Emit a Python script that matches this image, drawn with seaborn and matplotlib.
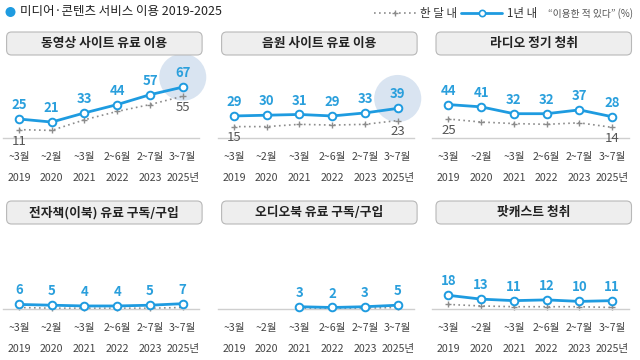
import numpy as np
import matplotlib.pyplot as plt
from matplotlib.patches import FancyBboxPatch, Circle
from matplotlib.lines import Line2D
import seaborn as sns

sns.set_theme(style="white")
plt.rcParams["font.family"] = ["Noto Sans CJK KR", "DejaVu Sans"]

BLUE = "#1e9be0"
BLUE_TXT = "#2a9fdc"
GREY = "#8c8c8c"
GREY_TXT = "#555555"
HALO = "#d9e4f1"
AXIS = "#cfcfcf"

nan = np.nan

# data
periods = ["~3월\n2019", "~2월\n2020", "~3월\n2021", "2~6월\n2022", "2~7월\n2023", "3~7월\n2025년"]
titles = ["동영상 사이트 유료 이용", "음원 사이트 유료 이용", "라디오 정기 청취",
          "전자책(이북) 유료 구독/구입", "오디오북 유료 구독/구입", "팟캐스트 청취"]

year_video = [25, 21, 33, 44, 57, 67]
month_video = [11, 10, 24, 35, 44, 55]
year_music = [29, 30, 31, 29, 33, 39]
month_music = [15, 15, 18, 17, 18, 23]
year_radio = [44, 41, 32, 32, 37, 28]
month_radio = [25, 21, 19, 18, 20, 14]
year_ebook = [6, 5, 4, 4, 5, 7]
month_ebook = [2, 1, 1, 1, 1, 2]
year_audio = [nan, nan, 3, 2, 3, 5]
month_audio = [nan, nan, 1, 1, 1, 2]
year_podcast = [18, 13, 11, 12, 10, 11]
month_podcast = [6, 4, 3, 3, 3, 2]

yearly = [year_video, year_music, year_radio, year_ebook, year_audio, year_podcast]
monthly = [month_video, month_music, month_radio, month_ebook, month_audio, month_podcast]
show_month_labels = [True, True, True, False, False, False]
halo = [True, True, False, False, False, False]

# layout (pixels on a 640x360 canvas)
W, H = 640, 360
panel_left = [2.6, 217.6, 432.0]
panel_width = 196.5
row_base = [138, 309]
plot_h = 79
box_top = [32, 201]
box_h = 23

fig = plt.figure(figsize=(6.4, 3.6), dpi=100)
fig.patch.set_facecolor("white")

# header
fig.patches.append(Circle((0.105, 3.6 - 0.12), 0.05, transform=fig.dpi_scale_trans,
                          facecolor=BLUE, edgecolor="none"))
fig.text(20 / W, 1 - 12 / H, "미디어·콘텐츠 서비스 이용 2019-2025", fontsize=9,
         color="#222222", va="center", ha="left")

handles = [Line2D([], [], color=GREY, lw=1.2, ls=(0, (1, 2)), marker="+", ms=5),
           Line2D([], [], color=BLUE, lw=2, marker="o", ms=4.5, mfc="white", mec=BLUE, mew=1.2)]
fig.legend(handles, ["한 달 내", "1년 내"], loc="center right", bbox_to_anchor=(543 / W, 1 - 14 / H),
           ncol=2, frameon=False, fontsize=8.3, handlelength=3.6, handletextpad=0.4,
           columnspacing=0.3, borderpad=0, labelcolor="#333333")
fig.text(548 / W, 1 - 14 / H, "\u201c이용한 적 있다\u201d (%)", fontsize=7, color=GREY_TXT,
         va="center", ha="left")

x = np.arange(len(periods))

for i in range(6):
    r, c = divmod(i, 3)
    left = panel_left[c]
    base = row_base[r]
    ax = fig.add_axes([left / W, (H - base) / H, panel_width / W, plot_h / H])
    ax.patch.set_alpha(0)

    # title box
    bx = left + 4
    by = H - box_top[r] - box_h
    fig.patches.append(FancyBboxPatch((bx / 100, by / 100), (panel_width - 1) / 100, box_h / 100,
                                      boxstyle="round,pad=0,rounding_size=0.05",
                                      transform=fig.dpi_scale_trans,
                                      facecolor="#eeeeee", edgecolor="#b8b8b8", lw=0.8))
    fig.text((bx + (panel_width - 1) / 2) / W, (by + box_h / 2) / H, titles[i],
             fontsize=9.2, fontweight="bold", color="#222222", ha="center", va="center")

    yv = np.array(yearly[i], dtype=float)
    mv = np.array(monthly[i], dtype=float)

    if halo[i]:
        ax.scatter([x[-1]], [yv[-1] + 13], s=1150, color=HALO, zorder=1, clip_on=False,
                   edgecolors="none")

    sns.lineplot(x=x, y=mv, ax=ax, color=GREY, lw=1.2, linestyle=(0, (1, 2)),
                 marker="+", markersize=5, markeredgewidth=1, markeredgecolor=GREY,
                 zorder=2, clip_on=False)
    sns.lineplot(x=x, y=yv, ax=ax, color=BLUE, lw=2, marker="o", markersize=5.5,
                 markerfacecolor="white", markeredgecolor=BLUE, markeredgewidth=1.4,
                 zorder=3, clip_on=False)

    for xi, v in zip(x, yv):
        if np.isnan(v):
            continue
        ax.annotate(f"{v:.0f}", (xi, v), xytext=(0, 5), textcoords="offset points",
                    ha="center", va="bottom", fontsize=9.5, fontweight="bold", color=BLUE_TXT)

    if show_month_labels[i]:
        for xi in (x[0], x[-1]):
            ax.annotate(f"{mv[xi]:.0f}", (xi, mv[xi]), xytext=(0, -3.5), textcoords="offset points",
                        ha="center", va="top", fontsize=9.5, color=GREY_TXT)

    ax.set_xlim(-0.5, 5.5)
    ax.set_ylim(0, 104)
    ax.set_yticks([])
    ax.set_xlabel("")
    ax.set_ylabel("")
    for s in ("left", "right", "top"):
        ax.spines[s].set_visible(False)
    ax.spines["bottom"].set_color(AXIS)
    ax.spines["bottom"].set_linewidth(1)
    ax.set_xticks(x)
    ax.set_xticklabels(periods, fontsize=7.6, color="#444444")
    for lbl in ax.get_xticklabels():
        lbl.set_linespacing(2.45)
    ax.set_xticks(np.arange(-0.5, 6, 1), minor=True)
    ax.tick_params(axis="x", which="major", length=0, pad=10)
    ax.tick_params(axis="x", which="minor", direction="in", length=5, color=AXIS, width=1)
    ax.grid(False)

plt.savefig("out.png", dpi=100, facecolor="white")
plt.close()
